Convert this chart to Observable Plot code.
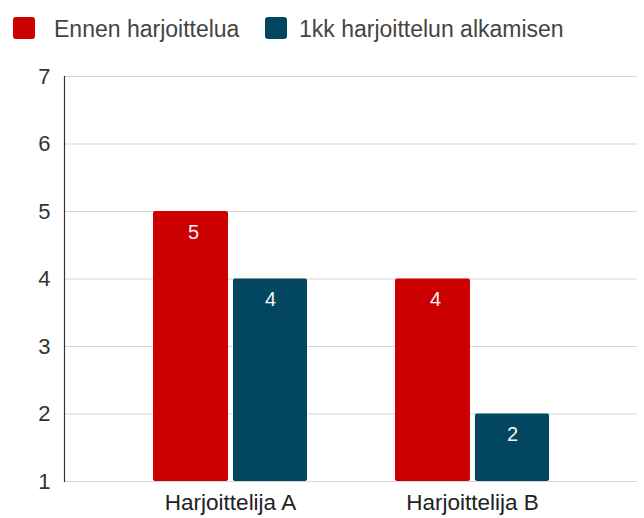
<!DOCTYPE html>
<html>
<head>
<meta charset="utf-8">
<script src="https://cdn.jsdelivr.net/npm/d3@7"></script>
<script src="https://cdn.jsdelivr.net/npm/@observablehq/plot@0.6"></script>
<style>
  html, body { margin: 0; padding: 0; background: #fff; }
  body { width: 644px; height: 518px; overflow: hidden; font-family: "Liberation Sans", Arial, sans-serif; }
  #legend { height: 50px; position: relative; }
  .sw { position: absolute; top: 17px; width: 22px; height: 22px; border-radius: 3px; }
  .lt { position: absolute; top: 16px; font-size: 23px; color: #444; line-height: 26px; white-space: nowrap; }
</style>
</head>
<body>
<div id="legend"></div>
<div id="chart"></div>
<script>
const groups = ["Harjoittelija A", "Harjoittelija B"];
const seriesNames = ["Ennen harjoittelua", "1kk harjoittelun alkamisen"];
const seriesColors = ["#cc0000", "#03465f"];
const valuesBefore = [5, 4];
const valuesAfter = [4, 2];
const yTicks = [1, 2, 3, 4, 5, 6, 7];

const data = [];
groups.forEach((g, i) => {
  data.push({group: g, series: seriesNames[0], value: valuesBefore[i]});
  data.push({group: g, series: seriesNames[1], value: valuesAfter[i]});
});

// legend
const legend = d3.select("#legend");
const legendX = [[13, 54], [265, 299]];
seriesNames.forEach((s, i) => {
  legend.append("div").attr("class", "sw")
    .style("left", legendX[i][0] + "px").style("background", seriesColors[i]);
  legend.append("div").attr("class", "lt")
    .style("left", legendX[i][1] + "px").text(s);
});

const redData = data.filter(d => d.series === seriesNames[0]);
const blueData = data.filter(d => d.series === seriesNames[1]);

const chart = Plot.plot({
  width: 644,
  height: 468,
  marginTop: 26,
  marginBottom: 37,
  marginLeft: 64,
  marginRight: 7,
  style: {fontFamily: "'Liberation Sans', Arial, sans-serif", fontSize: "22px", color: "#333", background: "#fff"},
  x: {type: "band", domain: groups, paddingInner: 0.364, paddingOuter: 0.364, label: null},
  y: {domain: [1, 7], label: null},
  color: {domain: seriesNames, range: seriesColors},
  marks: [
    Plot.ruleY(yTicks, {stroke: "#d6d6d6", strokeWidth: 1.2}),
    Plot.axisY({ticks: yTicks, tickFormat: d3.format("d"), tickSize: 0, tickPadding: 14, label: null, fontSize: 22, fill: "#333"}),
    Plot.axisX({tickSize: 0, tickPadding: 13, label: null, fontSize: 22.5, fill: "#222"}),
    Plot.frame({anchor: "left", stroke: "#333", strokeWidth: 1.2}),
    Plot.barY(redData, {x: "group", y1: 1, y2: "value", fill: "series", insetRight: 79, rx: 2}),
    Plot.barY(blueData, {x: "group", y1: 1, y2: "value", fill: "series", insetLeft: 80, rx: 2}),
    Plot.text(redData, {x: "group", y: "value", text: d => String(d.value), dx: -37, dy: 21, fill: "#f4f4f4", fontSize: 20}),
    Plot.text(blueData, {x: "group", y: "value", text: d => String(d.value), dx: 40, dy: 21, fill: "#f4f4f4", fontSize: 20})
  ]
});
document.getElementById("chart").appendChild(chart);
</script>
</body>
</html>
